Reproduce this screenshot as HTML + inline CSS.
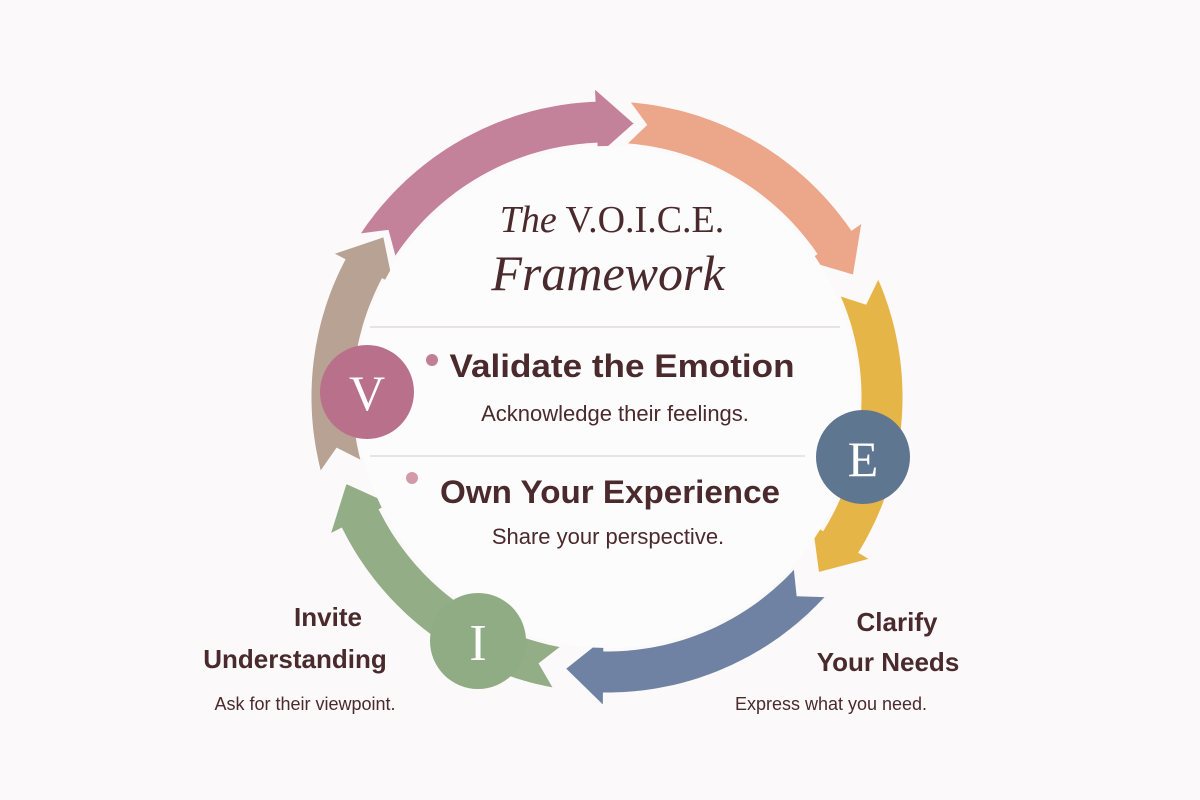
<!DOCTYPE html>
<html><head><meta charset="utf-8"><style>
body{margin:0;width:1200px;height:800px;background:#fbf9f9;overflow:hidden;font-family:"Liberation Serif",serif;color:#4a2a2c}
svg{position:absolute;left:0;top:0}
</style></head><body>
<svg id="s" width="1200" height="800" viewBox="0 0 1200 800"></svg>
<script>
const cx=607,cy=397,R=275,W=22,H=36;
const arrows=[[213,276,'#c4819a'],[274,334,'#eca68a'],[336,40,'#e6b547'],[42,99,'#6f82a3'],[100,162,'#93ad86'],[165,216,'#b7a294']];
function P(a,r){a=a*Math.PI/180;return (cx+r*Math.cos(a)).toFixed(1)+','+(cy+r*Math.sin(a)).toFixed(1);}
let s='';
for(const [a0,a2r,c] of arrows){
 let a2=a2r<a0?a2r+360:a2r;
 const hl=8.5,a1=a2-hl,n=4;
 let pts=[];
 for(let a=a0;a<=a1;a+=1)pts.push(P(a,R+W));
 pts.push(P(a1,R+W));pts.push(P(a1,R+H));pts.push(P(a2,R));pts.push(P(a1,R-H));
 for(let a=a1;a>=a0;a-=1)pts.push(P(a,R-W));
 pts.push(P(a0,R-W));pts.push(P(a0+n,R));
 s+=`<polygon points="${pts.join(' ')}" fill="${c}" stroke="#fbf9f9" stroke-width="3" stroke-linejoin="miter"/>`;
}
s+=`<circle cx="${cx}" cy="${cy}" r="${R-W-2}" fill="#fdfcfc"/>`;
s+=`<line x1="370" y1="327" x2="840" y2="327" stroke="#ddd6d6" stroke-width="1.2"/><line x1="370" y1="456" x2="805" y2="456" stroke="#ddd6d6" stroke-width="1.2"/>`;
s+=`<circle cx="432" cy="360" r="6" fill="#c07f95"/><circle cx="412" cy="478" r="6" fill="#d39aa8"/>`;
s+=`<circle cx="367" cy="392" r="47" fill="#b9708a"/><text x="367" y="410" font-size="50" fill="#fff" text-anchor="middle">V</text>`;
s+=`<circle cx="863" cy="457" r="47" fill="#5f7690"/><text x="863" y="476" font-size="50" fill="#fff" text-anchor="middle">E</text>`;
s+=`<circle cx="478" cy="641" r="48" fill="#8fac84"/><text x="478" y="660" font-size="52" fill="#fff" text-anchor="middle">I</text>`;
const T='fill="#4a2a2c" text-anchor="middle"';
const SA='font-family="Liberation Sans"';
s+=`<text x="612" y="232" font-size="38" ${T}><tspan font-style="italic">The</tspan> V.O.I.C.E.</text>`;
s+=`<text x="608" y="290" font-size="50" font-style="italic" ${T}>Framework</text>`;
s+=`<text x="622" y="377" font-size="32" font-weight="bold" ${SA} ${T} textLength="345" lengthAdjust="spacingAndGlyphs">Validate the Emotion</text>`;
s+=`<text x="615" y="421" font-size="22" ${SA} ${T}>Acknowledge their feelings.</text>`;
s+=`<text x="610" y="503" font-size="32" font-weight="bold" ${SA} ${T} textLength="340" lengthAdjust="spacingAndGlyphs">Own Your Experience</text>`;
s+=`<text x="608" y="544" font-size="22" ${SA} ${T}>Share your perspective.</text>`;
s+=`<text x="328" y="626" font-size="26" font-weight="bold" ${SA} ${T}>Invite</text>`;
s+=`<text x="295" y="668" font-size="26" font-weight="bold" ${SA} ${T}>Understanding</text>`;
s+=`<text x="305" y="710" font-size="18" ${SA} ${T}>Ask for their viewpoint.</text>`;
s+=`<text x="897" y="631" font-size="26" font-weight="bold" ${SA} ${T}>Clarify</text>`;
s+=`<text x="888" y="671" font-size="26" font-weight="bold" ${SA} ${T}>Your Needs</text>`;
s+=`<text x="831" y="710" font-size="18" ${SA} ${T}>Express what you need.</text>`;
document.getElementById('s').innerHTML=s;
</script>
</body></html>
